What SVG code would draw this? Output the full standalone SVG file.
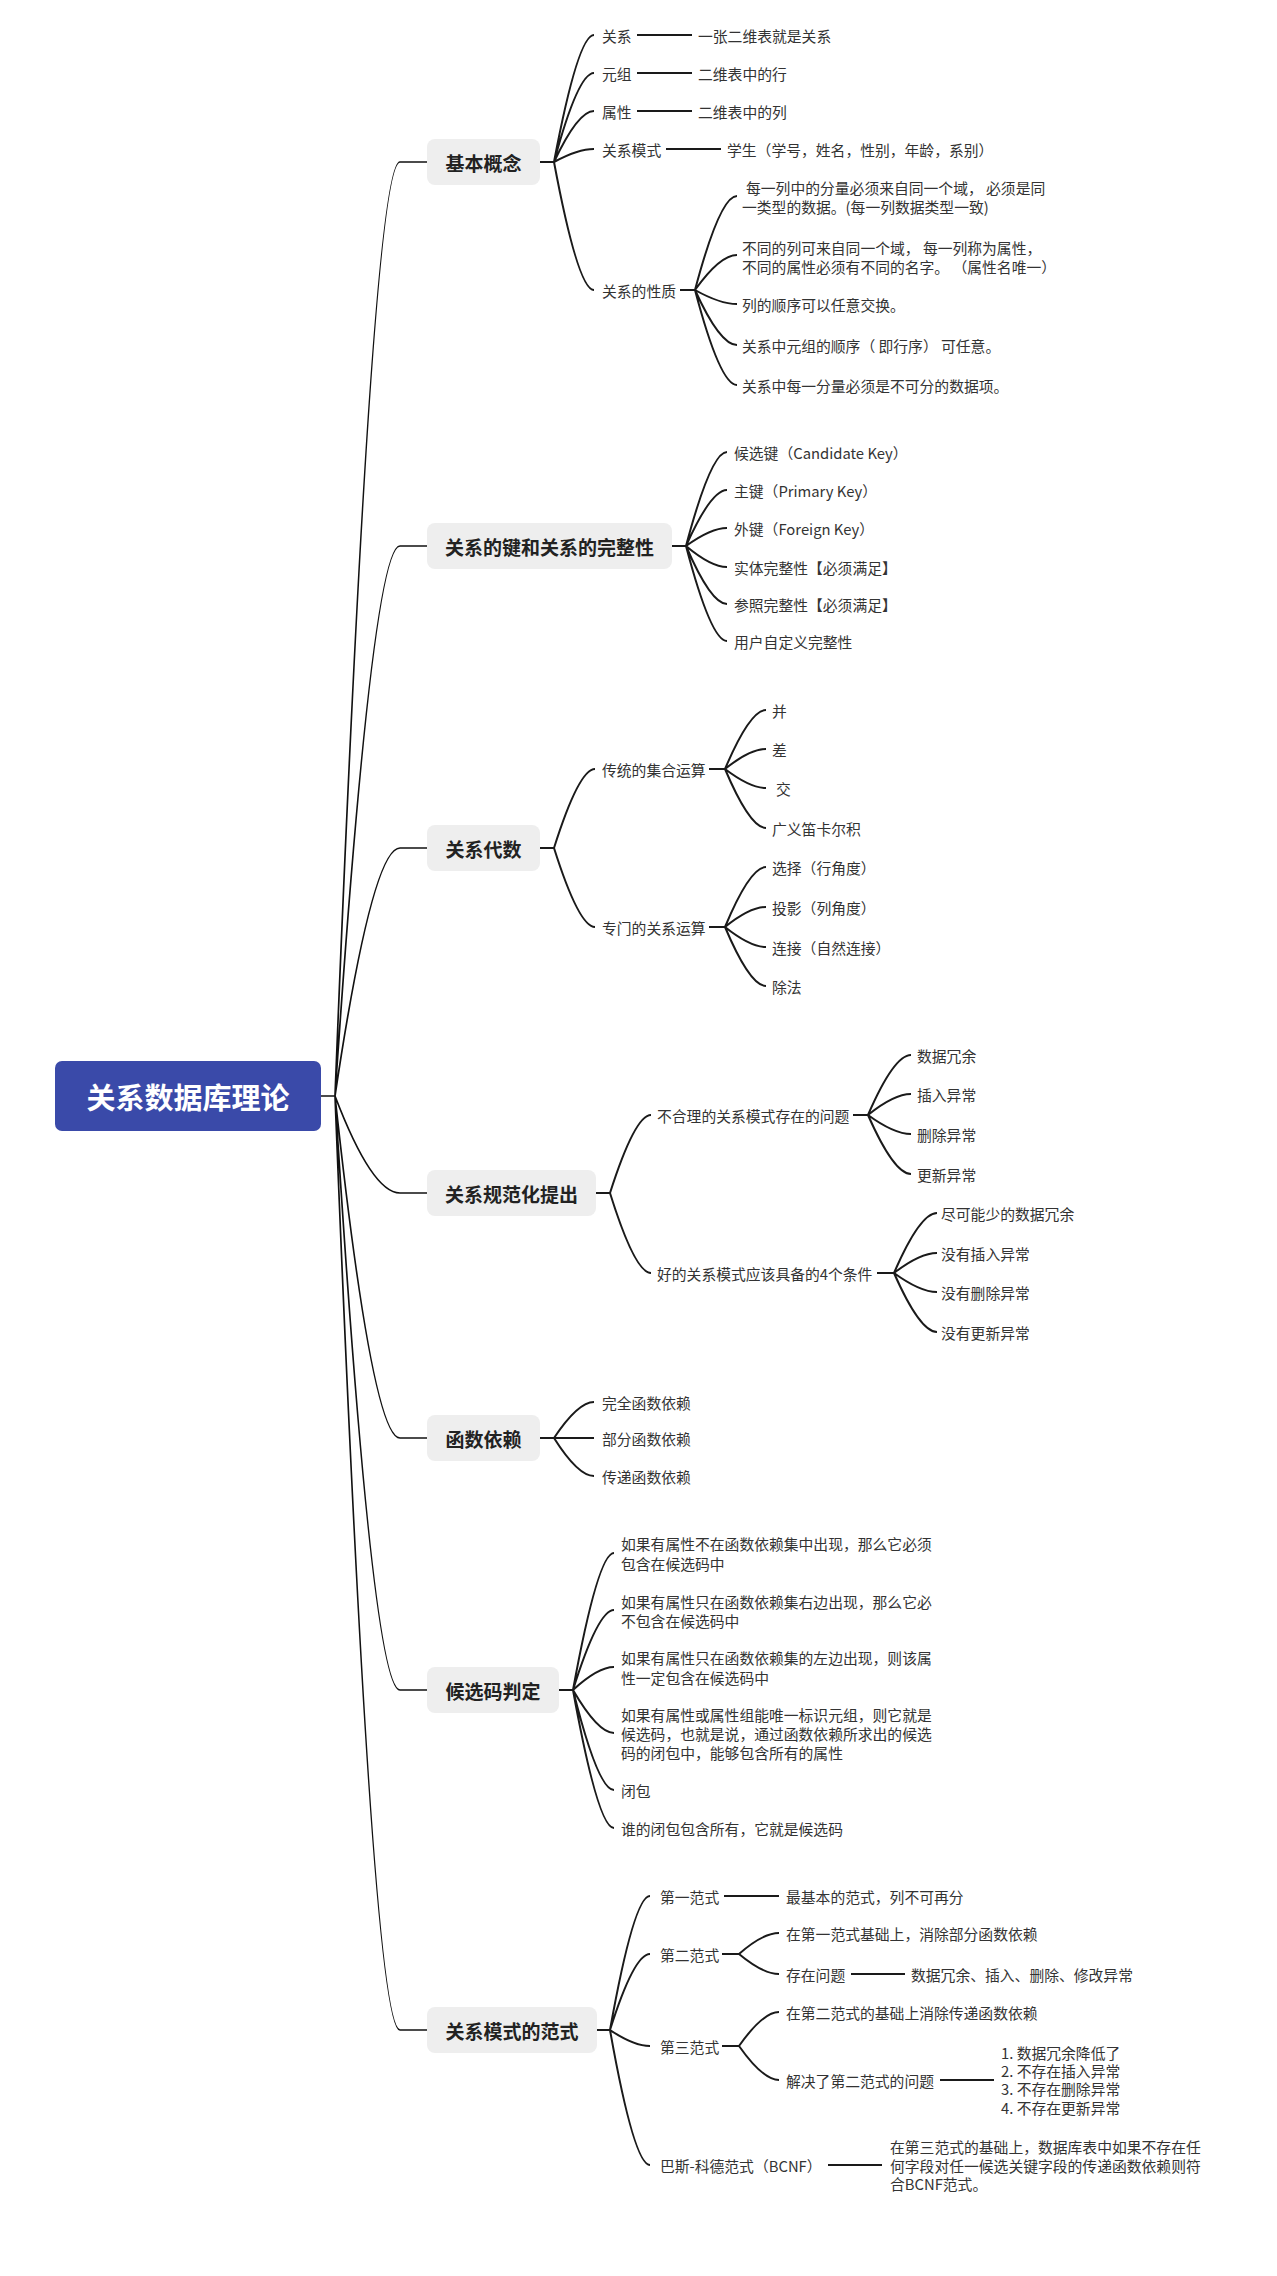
<svg xmlns="http://www.w3.org/2000/svg" width="1277" height="2276" viewBox="0 0 1277 2276">
<style>
text{font-family:"Noto Sans CJK SC","Liberation Sans",sans-serif;dominant-baseline:central}
.t{font-size:14.8px;fill:#333}
.h{font-size:19px;font-weight:bold;fill:#222;text-anchor:middle}
.root{font-size:29px;font-weight:bold;fill:#fff;text-anchor:middle}
.box{fill:#eeeeee}
.c{fill:none;stroke:#1a1a1a;stroke-width:2}
.r{fill:none;stroke:#111;stroke-width:1.7}
</style>
<rect width="1277" height="2276" fill="#fff"/>
<g id="connectors">
<path class="r" d="M321 1096H335M335 1096Q372 162 400 162H427M335 1096Q372 546 400 546H427M335 1096Q372 848 400 848H427M335 1096Q372 1193 400 1193H427M335 1096Q372 1438 400 1438H427M335 1096Q372 1690 400 1690H427M335 1096Q372 2030 400 2030H427"/>
<path class="c" d="M540 162H554M554 162Q578 35 594 35M554 162Q578 73 594 73M554 162Q578 111 594 111M554 162Q578 149 594 149M554 162Q578 290 594 290M637 35H692M637 73H692M637 111H692M666 149H721"/>
<path class="c" d="M680 290H695M695 290Q720 196 737 196M695 290Q720 255 737 255M695 290Q720 304 737 304M695 290Q720 345 737 345M695 290Q720 385 737 385"/>
<path class="c" d="M672 546H686M686 546Q711 452 727 452M686 546Q711 490 727 490M686 546Q711 528 727 528M686 546Q711 567 727 567M686 546Q711 604 727 604M686 546Q711 641 727 641"/>
<path class="c" d="M540 848H554M554 848Q579 769 595 769M554 848Q579 927 595 927M709 769H725M725 769Q750 710 766 710M725 769Q750 749 766 749M725 769Q750 788 766 788M725 769Q750 828 766 828M709 927H725M725 927Q750 867 766 867M725 927Q750 907 766 907M725 927Q750 947 766 947M725 927Q750 986 766 986"/>
<path class="c" d="M596 1193H610M610 1193Q635 1115 651 1115M610 1193Q635 1273 651 1273M853 1115H868M868 1115Q894 1055 911 1055M868 1115Q894 1094 911 1094M868 1115Q894 1134 911 1134M868 1115Q894 1174 911 1174M877 1273H894M894 1273Q920 1213 937 1213M894 1273Q920 1253 937 1253M894 1273Q920 1292 937 1292M894 1273Q920 1332 937 1332"/>
<path class="c" d="M540 1438H554M554 1438Q578 1402 594 1402M554 1438H594M554 1438Q578 1476 594 1476"/>
<path class="c" d="M559 1690H573M573 1690Q598 1553 614 1553M573 1690Q598 1610 614 1610M573 1690Q598 1667 614 1667M573 1690Q598 1733 614 1733M573 1690Q598 1790 614 1790M573 1690Q598 1828 614 1828"/>
<path class="c" d="M597 2030H610M610 2030Q634 1896 650 1896M610 2030Q634 1954 650 1954M610 2030Q634 2046 650 2046M610 2030Q634 2165 650 2165M724 1896H779M722 1954H739M739 1954Q763 1933 779 1933M739 1954Q763 1974 779 1974M851 1974H905M722 2046H739M739 2046Q763 2012 779 2012M739 2046Q763 2080 779 2080M940 2080H994M828 2165H882"/>
</g>
<g id="root"><rect x="55" y="1061" width="266" height="70" rx="7" fill="#3a4aa9"/><text class="root" x="188" y="1096">关系数据库理论</text></g>
<g id="n1"><rect class="box" x="427" y="139" width="113" height="46" rx="8"/><text class="h" x="483.5" y="162">基本概念</text></g>
<g id="n1-1"><text class="t" x="602" y="35">关系</text><text class="t" x="698" y="35">一张二维表就是关系</text></g>
<g id="n1-2"><text class="t" x="602" y="73">元组</text><text class="t" x="698" y="73">二维表中的行</text></g>
<g id="n1-3"><text class="t" x="602" y="111">属性</text><text class="t" x="698" y="111">二维表中的列</text></g>
<g id="n1-4"><text class="t" x="602" y="149">关系模式</text><text class="t" x="727" y="149">学生（学号，姓名，性别，年龄，系别）</text></g>
<g id="n1-5"><text class="t" x="602" y="290">关系的性质</text>
<text class="t" x="746" y="187">每一列中的分量必须来自同一个域， 必须是同</text><text class="t" x="742" y="206">一类型的数据。(每一列数据类型一致)</text>
<text class="t" x="742" y="247">不同的列可来自同一个域， 每一列称为属性，</text><text class="t" x="742" y="266">不同的属性必须有不同的名字。 （属性名唯一）</text>
<text class="t" x="742" y="304">列的顺序可以任意交换。</text>
<text class="t" x="742" y="345">关系中元组的顺序（ 即行序） 可任意。</text>
<text class="t" x="742" y="385">关系中每一分量必须是不可分的数据项。</text></g>
<g id="n2"><rect class="box" x="427" y="523" width="245" height="46" rx="8"/><text class="h" x="549.5" y="546">关系的键和关系的完整性</text>
<text class="t" x="734" y="452">候选键（Candidate Key）</text>
<text class="t" x="734" y="490">主键（Primary Key）</text>
<text class="t" x="734" y="528">外键（Foreign Key）</text>
<text class="t" x="734" y="567">实体完整性【必须满足】</text>
<text class="t" x="734" y="604">参照完整性【必须满足】</text>
<text class="t" x="734" y="641">用户自定义完整性</text></g>
<g id="n3"><rect class="box" x="427" y="825" width="113" height="46" rx="8"/><text class="h" x="483.5" y="848">关系代数</text>
<text class="t" x="602" y="769">传统的集合运算</text>
<text class="t" x="772" y="710">并</text><text class="t" x="772" y="749">差</text><text class="t" x="776" y="788">交</text><text class="t" x="772" y="828">广义笛卡尔积</text>
<text class="t" x="602" y="927">专门的关系运算</text>
<text class="t" x="772" y="867">选择（行角度）</text><text class="t" x="772" y="907">投影（列角度）</text><text class="t" x="772" y="947">连接（自然连接）</text><text class="t" x="772" y="986">除法</text></g>
<g id="n4"><rect class="box" x="427" y="1170" width="169" height="46" rx="8"/><text class="h" x="511.5" y="1193">关系规范化提出</text>
<text class="t" x="657" y="1115">不合理的关系模式存在的问题</text>
<text class="t" x="917" y="1055">数据冗余</text><text class="t" x="917" y="1094">插入异常</text><text class="t" x="917" y="1134">删除异常</text><text class="t" x="917" y="1174">更新异常</text>
<text class="t" x="657" y="1273">好的关系模式应该具备的4个条件</text>
<text class="t" x="941" y="1213">尽可能少的数据冗余</text><text class="t" x="941" y="1253">没有插入异常</text><text class="t" x="941" y="1292">没有删除异常</text><text class="t" x="941" y="1332">没有更新异常</text></g>
<g id="n5"><rect class="box" x="427" y="1415" width="113" height="46" rx="8"/><text class="h" x="483.5" y="1438">函数依赖</text>
<text class="t" x="602" y="1402">完全函数依赖</text><text class="t" x="602" y="1438">部分函数依赖</text><text class="t" x="602" y="1476">传递函数依赖</text></g>
<g id="n6"><rect class="box" x="427" y="1667" width="132" height="46" rx="8"/><text class="h" x="493" y="1690">候选码判定</text>
<text class="t" x="621" y="1543">如果有属性不在函数依赖集中出现，那么它必须</text><text class="t" x="621" y="1563">包含在候选码中</text>
<text class="t" x="621" y="1601">如果有属性只在函数依赖集右边出现，那么它必</text><text class="t" x="621" y="1620">不包含在候选码中</text>
<text class="t" x="621" y="1657">如果有属性只在函数依赖集的左边出现，则该属</text><text class="t" x="621" y="1677">性一定包含在候选码中</text>
<text class="t" x="621" y="1714">如果有属性或属性组能唯一标识元组，则它就是</text><text class="t" x="621" y="1733">候选码，也就是说，通过函数依赖所求出的候选</text><text class="t" x="621" y="1752">码的闭包中，能够包含所有的属性</text>
<text class="t" x="621" y="1790">闭包</text>
<text class="t" x="621" y="1828">谁的闭包包含所有，它就是候选码</text></g>
<g id="n7"><rect class="box" x="427" y="2007" width="170" height="46" rx="8"/><text class="h" x="512" y="2030">关系模式的范式</text>
<text class="t" x="660" y="1896">第一范式</text><text class="t" x="786" y="1896">最基本的范式，列不可再分</text>
<text class="t" x="660" y="1954">第二范式</text><text class="t" x="786" y="1933">在第一范式基础上，消除部分函数依赖</text><text class="t" x="786" y="1974">存在问题</text><text class="t" x="911" y="1974">数据冗余、插入、删除、修改异常</text>
<text class="t" x="660" y="2046">第三范式</text><text class="t" x="786" y="2012">在第二范式的基础上消除传递函数依赖</text><text class="t" x="786" y="2080">解决了第二范式的问题</text>
<text class="t" x="1001" y="2052">1. 数据冗余降低了</text><text class="t" x="1001" y="2070">2. 不存在插入异常</text><text class="t" x="1001" y="2088">3. 不存在删除异常</text><text class="t" x="1001" y="2107">4. 不存在更新异常</text>
<text class="t" x="660" y="2165">巴斯-科德范式（BCNF）</text>
<text class="t" x="890" y="2146">在第三范式的基础上，数据库表中如果不存在任</text><text class="t" x="890" y="2165">何字段对任一候选关键字段的传递函数依赖则符</text><text class="t" x="890" y="2183">合BCNF范式。</text></g>
</svg>
